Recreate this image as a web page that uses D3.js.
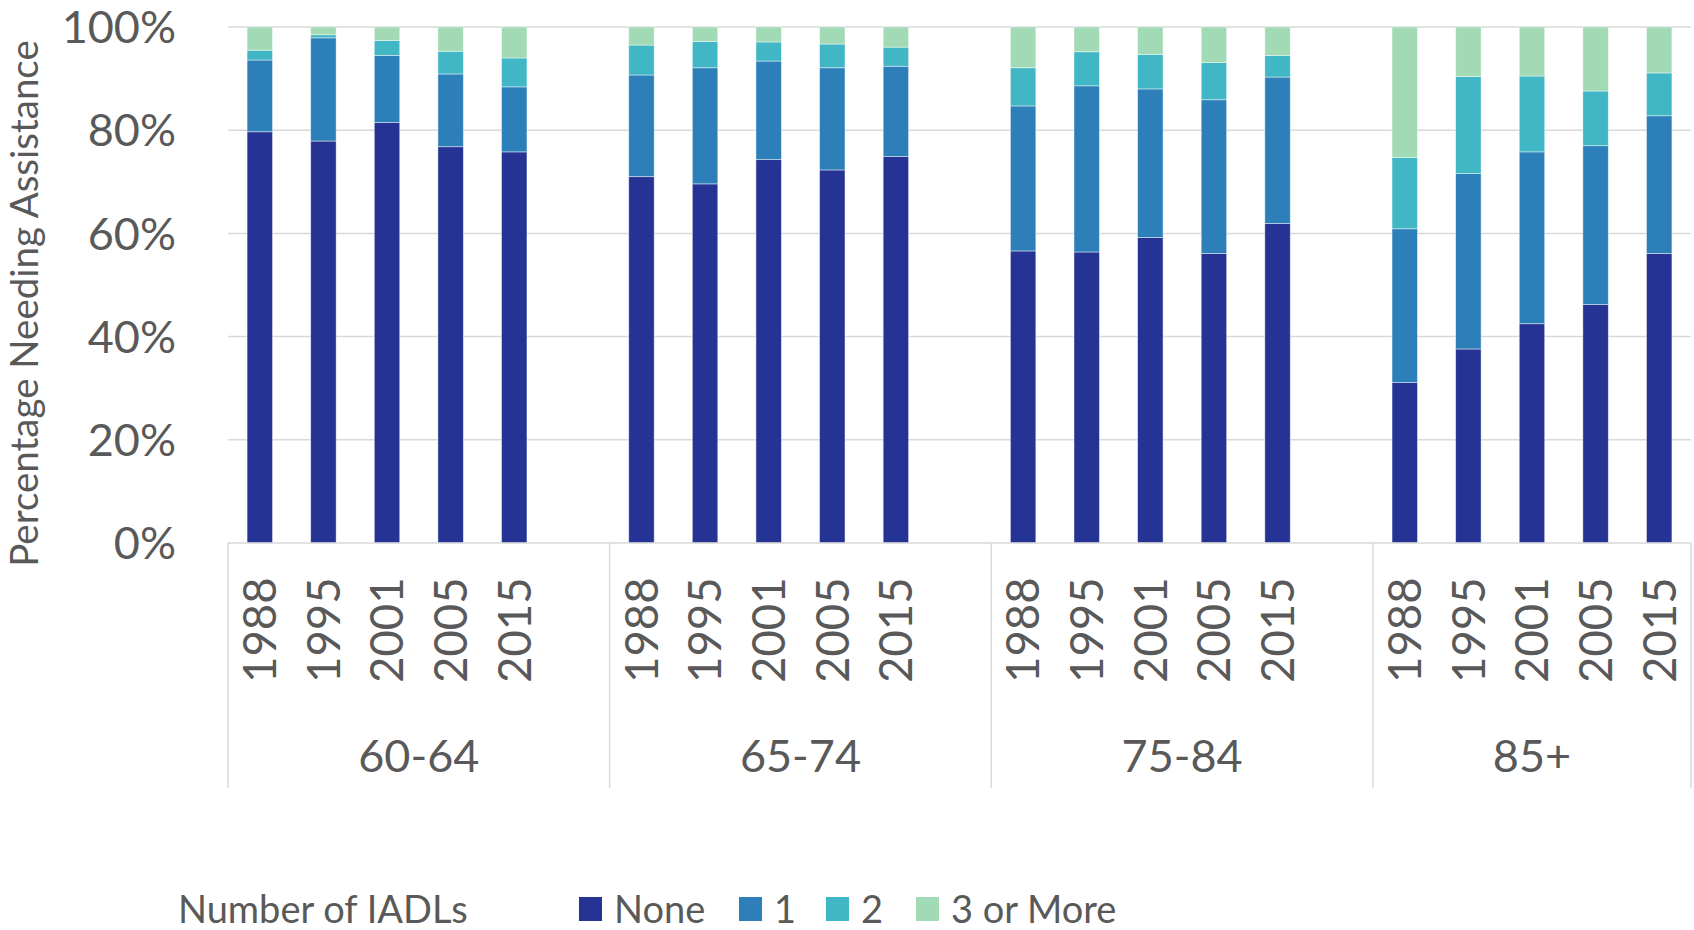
<!DOCTYPE html>
<html>
<head>
<meta charset="utf-8">
<script src="https://cdn.jsdelivr.net/npm/d3@7"></script>
<style>
  html, body { margin: 0; padding: 0; background: #ffffff; }
  svg { display: block; }
  text { font-family: Lato, "Open Sans", sans-serif; fill: #595959; }
</style>
</head>
<body>
<svg id="chart" width="1694" height="930"></svg>
<script>
// ---- Data ----
const ageGroups = ["60-64", "65-74", "75-84", "85+"];
const years = ["1988", "1995", "2001", "2005", "2015"];
const seriesNames = ["None", "1", "2", "3 or More"];
const seriesColors = ["#253494", "#2c7fb8", "#41b6c4", "#a1dab4"];
const yTickValues = [0, 20, 40, 60, 80, 100];
const yTickLabels = ["0%", "20%", "40%", "60%", "80%", "100%"];

// percentage in each IADL category, per age group, per year (order of years)
const noneValues = [
  [79.7, 77.9, 81.5, 76.8, 75.8],
  [71.0, 69.6, 74.3, 72.3, 74.9],
  [56.6, 56.4, 59.2, 56.1, 61.9],
  [31.1, 37.6, 42.5, 46.2, 56.1]
];
const oneValues = [
  [13.9, 20.0, 13.0, 14.1, 12.6],
  [19.7, 22.5, 19.1, 19.8, 17.5],
  [28.1, 32.2, 28.8, 29.8, 28.4],
  [29.8, 34.0, 33.3, 30.8, 26.7]
];
const twoValues = [
  [1.9, 0.6, 2.9, 4.4, 5.6],
  [5.8, 5.1, 3.7, 4.6, 3.7],
  [7.4, 6.6, 6.7, 7.2, 4.2],
  [13.8, 18.8, 14.7, 10.6, 8.3]
];
const threePlusValues = [
  [4.5, 1.5, 2.6, 4.7, 6.0],
  [3.5, 2.8, 2.9, 3.3, 3.9],
  [7.9, 4.8, 5.3, 6.9, 5.5],
  [25.3, 9.6, 9.5, 12.4, 8.9]
];

const yAxisTitle = "Percentage Needing Assistance";
const legendTitle = "Number of IADLs";

// ---- Build table ----
const seriesKeys = ["none", "one", "two", "three"];
const rows = [];
ageGroups.forEach((g, gi) => {
  years.forEach((y, yi) => {
    rows.push({
      key: g + "|" + y, group: g, year: y,
      none: noneValues[gi][yi], one: oneValues[gi][yi],
      two: twoValues[gi][yi], three: threePlusValues[gi][yi]
    });
  });
});

// Category slots: 5 years plus one blank slot per group (not after last)
const slots = [];
ageGroups.forEach((g, gi) => {
  years.forEach(y => slots.push(g + "|" + y));
  if (gi < ageGroups.length - 1) slots.push(g + "|blank");
});

// ---- Layout ----
const plot = { left: 228, right: 1691, top: 27, bottom: 543 };
const svg = d3.select("#chart");

const x = d3.scaleBand().domain(slots).range([plot.left, plot.right])
  .paddingInner(0.6).paddingOuter(0.3);
const slotStep = x.step();
const y = d3.scaleLinear().domain([0, 100]).range([plot.bottom, plot.top]);

// gridlines
svg.append("g").selectAll("line").data(yTickValues.filter(v => v > 0)).join("line")
  .attr("x1", plot.left).attr("x2", plot.right)
  .attr("y1", d => y(d)).attr("y2", d => y(d))
  .attr("stroke", "#d9d9d9").attr("stroke-width", 1.5);

// y tick labels
svg.append("g").selectAll("text").data(yTickValues).join("text")
  .attr("x", 176).attr("y", d => y(d)).attr("dy", "0.36em")
  .attr("text-anchor", "end").style("font-size", "45px")
  .text((d, i) => yTickLabels[i]);

// y axis title
svg.append("text")
  .attr("transform", `translate(38,${(38 + 569) / 2}) rotate(-90)`)
  .attr("text-anchor", "middle").style("font-size", "38.5px")
  .text(yAxisTitle);

// stacked bars
const stack = d3.stack().keys(seriesKeys);
const stacked = stack(rows);
svg.append("g").selectAll("g").data(stacked).join("g")
  .attr("fill", (d, i) => seriesColors[i])
  .selectAll("rect").data(d => d).join("rect")
  .attr("x", d => x(d.data.key))
  .attr("width", x.bandwidth())
  .attr("y", d => y(d[1]))
  .attr("height", d => y(d[0]) - y(d[1]))
  .attr("stroke", "rgba(255,255,255,0.55)").attr("stroke-width", 0.8);

// baseline
svg.append("line")
  .attr("x1", plot.left).attr("x2", plot.right)
  .attr("y1", plot.bottom).attr("y2", plot.bottom)
  .attr("stroke", "#d9d9d9").attr("stroke-width", 1.5);

// group separators
const groupBounds = [];
ageGroups.forEach((g, gi) => {
  const first = x(g + "|" + years[0]) - (slotStep - x.bandwidth()) / 2;
  groupBounds.push(first);
});
groupBounds.push(plot.right);
svg.append("g").selectAll("line").data(groupBounds).join("line")
  .attr("x1", d => d).attr("x2", d => d)
  .attr("y1", plot.bottom).attr("y2", 788)
  .attr("stroke", "#d9d9d9").attr("stroke-width", 1.5);

// year labels
svg.append("g").selectAll("text").data(rows).join("text")
  .attr("transform", d => `translate(${x(d.key) + x.bandwidth() / 2},683) rotate(-90)`)
  .attr("dy", "0.36em").attr("text-anchor", "start")
  .style("font-size", "45.5px")
  .text(d => d.year);

// group labels
svg.append("g").selectAll("text").data(ageGroups).join("text")
  .attr("x", (d, i) => (groupBounds[i] + groupBounds[i + 1]) / 2)
  .attr("y", 756).attr("dy", "0.36em").attr("text-anchor", "middle")
  .style("font-size", "45px")
  .text(d => d);

// legend
const legendY = 909;
svg.append("text").attr("x", 178).attr("y", legendY).attr("dy", "0.36em")
  .style("font-size", "38px").text(legendTitle);
const legendX = [579, 739, 826, 916];
const lg = svg.append("g").selectAll("g").data(seriesNames).join("g")
  .attr("transform", (d, i) => `translate(${legendX[i]},0)`);
lg.append("rect").attr("x", 0).attr("y", legendY - 12).attr("width", 23).attr("height", 24)
  .attr("fill", (d, i) => seriesColors[i]);
lg.append("text").attr("x", 35).attr("y", legendY).attr("dy", "0.36em")
  .style("font-size", "38px").text(d => d);
</script>
</body>
</html>
